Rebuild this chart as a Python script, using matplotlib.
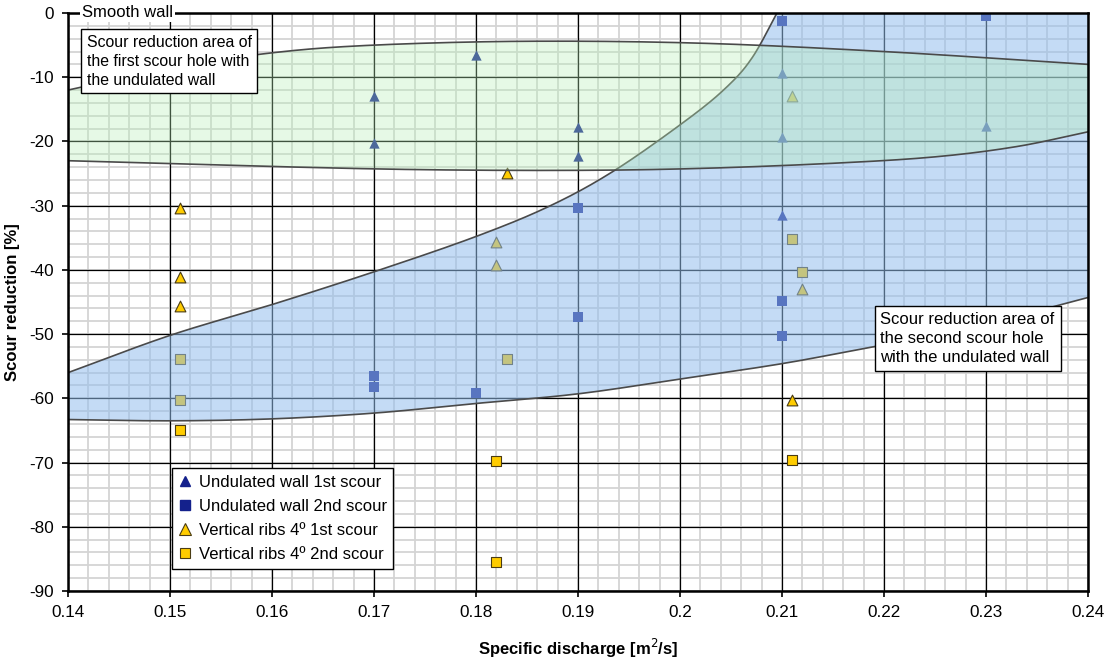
import matplotlib
import matplotlib.pyplot as plt
import numpy as np
from matplotlib.lines import Line2D
from matplotlib.ticker import FuncFormatter, MultipleLocator

matplotlib.use("Agg")

plt.rcParams["font.family"] = ["Liberation Sans", "DejaVu Sans"]
plt.rcParams["axes.unicode_minus"] = False

# measured points: specific discharge [m2/s] vs scour reduction [%]
uw1_x = [0.17, 0.17, 0.18, 0.19, 0.19, 0.21, 0.21, 0.21, 0.23]
uw1_y = [-12.9, -20.3, -6.5, -17.8, -22.3, -9.4, -19.3, -31.4, -17.6]
uw2_x = [0.17, 0.17, 0.18, 0.19, 0.19, 0.21, 0.21, 0.21, 0.23]
uw2_y = [-56.6, -58.3, -59.2, -30.4, -47.4, -1.2, -44.9, -50.3, -0.4]
vr1_x = [0.151, 0.151, 0.151, 0.183, 0.182, 0.182, 0.211, 0.212, 0.211]
vr1_y = [-30.4, -41.1, -45.6, -24.9, -35.7, -39.2, -12.9, -42.9, -60.2]
vr2_x = [0.151, 0.151, 0.151, 0.183, 0.182, 0.182, 0.211, 0.212, 0.211]
vr2_y = [-53.8, -60.3, -65.0, -53.8, -69.8, -85.5, -35.2, -40.3, -69.6]

series_labels = [
    "Undulated wall 1st scour",
    "Undulated wall 2nd scour",
    "Vertical ribs 4º 1st scour",
    "Vertical ribs 4º 2nd scour",
]

# outlines of the two shaded areas (first / second scour hole)
first_top_x = [0.14, 0.15, 0.16, 0.17, 0.185, 0.202, 0.22, 0.24]
first_top_y = [-12.0, -8.6, -6.2, -5.0, -4.4, -4.7, -6.0, -8.0]
first_bot_x = [0.14, 0.16, 0.175, 0.19, 0.202, 0.215, 0.225, 0.233, 0.24]
first_bot_y = [-23.0, -23.9, -24.4, -24.5, -24.2, -23.4, -22.4, -20.8, -18.5]

second_top_x = [0.14, 0.15, 0.16, 0.17, 0.18, 0.1873, 0.1936, 0.2007, 0.2046, 0.2071, 0.2095, 0.2105]
second_top_y = [-56.0, -50.2, -45.4, -40.3, -34.8, -30.0, -24.5, -16.6, -11.5, -6.9, 0.0, 3.0]
second_bot_x = [0.14, 0.15, 0.16, 0.17, 0.18, 0.19, 0.20, 0.21, 0.2178, 0.228, 0.2369, 0.24]
second_bot_y = [-63.3, -63.5, -63.2, -62.3, -60.8, -59.3, -57.0, -54.6, -52.3, -49.2, -45.6, -44.3]

NAVY = "#14218C"
YELLOW = "#FFCC00"
YELLOW_EDGE = "#4A3C14"
OUTLINE = "#4A4A4A"


def smooth(xs, ys, n=30):
    # Catmull-Rom pass through the outline points
    p = np.column_stack([xs, ys]).astype(float)
    p = np.vstack([2 * p[0] - p[1], p, 2 * p[-1] - p[-2]])
    out = []
    t = np.linspace(0, 1, n, endpoint=False)[:, None]
    for i in range(1, len(p) - 2):
        p0, p1, p2, p3 = p[i - 1], p[i], p[i + 1], p[i + 2]
        seg = 0.5 * (2 * p1 + (-p0 + p2) * t + (2 * p0 - 5 * p1 + 4 * p2 - p3) * t ** 2
                     + (-p0 + 3 * p1 - 3 * p2 + p3) * t ** 3)
        out.append(seg)
    out.append(p[-2][None, :])
    arr = np.vstack(out)
    return arr[:, 0], arr[:, 1]


fig = plt.figure(figsize=(11.16, 6.64), dpi=100)
ax = fig.add_axes([68 / 1116, 1 - 591 / 664, 1020 / 1116, 578 / 664])

ax.set_xlim(0.14, 0.24)
ax.set_ylim(-90, 0)
ax.xaxis.set_major_locator(MultipleLocator(0.01))
ax.yaxis.set_major_locator(MultipleLocator(10))
ax.xaxis.set_major_formatter(FuncFormatter(lambda v, _: f"{round(v, 2):g}"))
ax.tick_params(which="major", direction="out", length=4, width=1.2, labelsize=12.3, pad=6)
for sp in ax.spines.values():
    sp.set_linewidth(1.8)
    sp.set_zorder(6)

# grid drawn by hand so the black major lines stay above the grey minor ones
minor_x = np.arange(0.14, 0.2401, 0.002)
minor_y = np.arange(-90, 0.1, 2)
ax.vlines(minor_x, -90, 0, color="#D4D4D4", lw=1.3, zorder=0.3)
ax.hlines(minor_y, 0.14, 0.24, color="#D4D4D4", lw=1.3, zorder=0.3)
ax.vlines(np.arange(0.14, 0.2401, 0.01), -90, 0, color="black", lw=0.9, zorder=0.5)
ax.hlines(np.arange(-90, 0.1, 10), 0.14, 0.24, color="black", lw=0.9, zorder=0.5)

# points sit under the translucent areas
ax.scatter(uw1_x, uw1_y, marker="^", s=55, color=NAVY, linewidths=0, zorder=2)
ax.scatter(uw2_x, uw2_y, marker="s", s=50, color=NAVY, linewidths=0, zorder=2)
ax.scatter(vr1_x, vr1_y, marker="^", s=60, color=YELLOW, edgecolors=YELLOW_EDGE, linewidths=0.8, zorder=2)
ax.scatter(vr2_x, vr2_y, marker="s", s=50, color=YELLOW, edgecolors=YELLOW_EDGE, linewidths=0.8, zorder=2)

# second scour hole area
stx, sty = smooth(second_top_x, second_top_y)
sbx, sby = smooth(second_bot_x, second_bot_y)
poly_x = np.concatenate([stx, [0.245, 0.245], sbx[::-1]])
poly_y = np.concatenate([sty, [3.0, second_bot_y[-1] + 1.5], sby[::-1]])
ax.fill(poly_x, poly_y, color="#93BEED", alpha=0.54, linewidth=0, zorder=3)
ax.plot(stx, sty, color=OUTLINE, lw=1.2, zorder=3.1)
ax.plot(sbx, sby, color=OUTLINE, lw=1.2, zorder=3.1)

# first scour hole area
ftx, fty = smooth(first_top_x, first_top_y)
fbx, fby = smooth(first_bot_x, first_bot_y)
ax.fill(np.concatenate([ftx, fbx[::-1]]), np.concatenate([fty, fby[::-1]]),
        color="#B8F0B8", alpha=0.35, linewidth=0, zorder=3.2)
ax.plot(ftx, fty, color=OUTLINE, lw=1.2, zorder=3.3)
ax.plot(fbx, fby, color=OUTLINE, lw=1.2, zorder=3.3)

ax.text(0.1414, 0, "Smooth wall", fontsize=12, va="center", ha="left", zorder=7,
        bbox=dict(facecolor="white", edgecolor="none", pad=1.5), clip_on=False)

box = dict(facecolor="white", edgecolor="black", linewidth=1.0, boxstyle="square,pad=0.35")
ax.text(0.0185, 0.962, "Scour reduction area of\nthe first scour hole with\nthe undulated wall",
        transform=ax.transAxes, fontsize=11.4, va="top", ha="left", linespacing=1.32,
        bbox=box, zorder=8)
ax.text(0.7965, 0.483, "Scour reduction area of\nthe second scour hole\nwith the undulated wall",
        transform=ax.transAxes, fontsize=12, va="top", ha="left", linespacing=1.35,
        bbox=box, zorder=8)

handles = [
    Line2D([], [], ls="none", marker="^", ms=7, color=NAVY, mec=NAVY),
    Line2D([], [], ls="none", marker="s", ms=7, color=NAVY, mec=NAVY),
    Line2D([], [], ls="none", marker="^", ms=8, color=YELLOW, mec=YELLOW_EDGE, mew=0.8),
    Line2D([], [], ls="none", marker="s", ms=7, color=YELLOW, mec=YELLOW_EDGE, mew=0.8),
]
leg = ax.legend(handles, series_labels, loc="upper left", bbox_to_anchor=(0.102, 0.2128),
                borderaxespad=0, fontsize=12, handlelength=0.8, handletextpad=0.4,
                labelspacing=0.55, borderpad=0.4, fancybox=False, framealpha=1,
                edgecolor="black")
leg.get_frame().set_linewidth(1.0)
leg.set_zorder(8)

ax.set_xlabel("Specific discharge [m$^2$/s]", fontsize=12, fontweight="bold", labelpad=12)
ax.set_ylabel("Scour reduction [%]", fontsize=12, fontweight="bold")
ax.yaxis.set_label_coords(-0.047, 0.5)

fig.savefig("out.png", dpi=100)
plt.close(fig)
